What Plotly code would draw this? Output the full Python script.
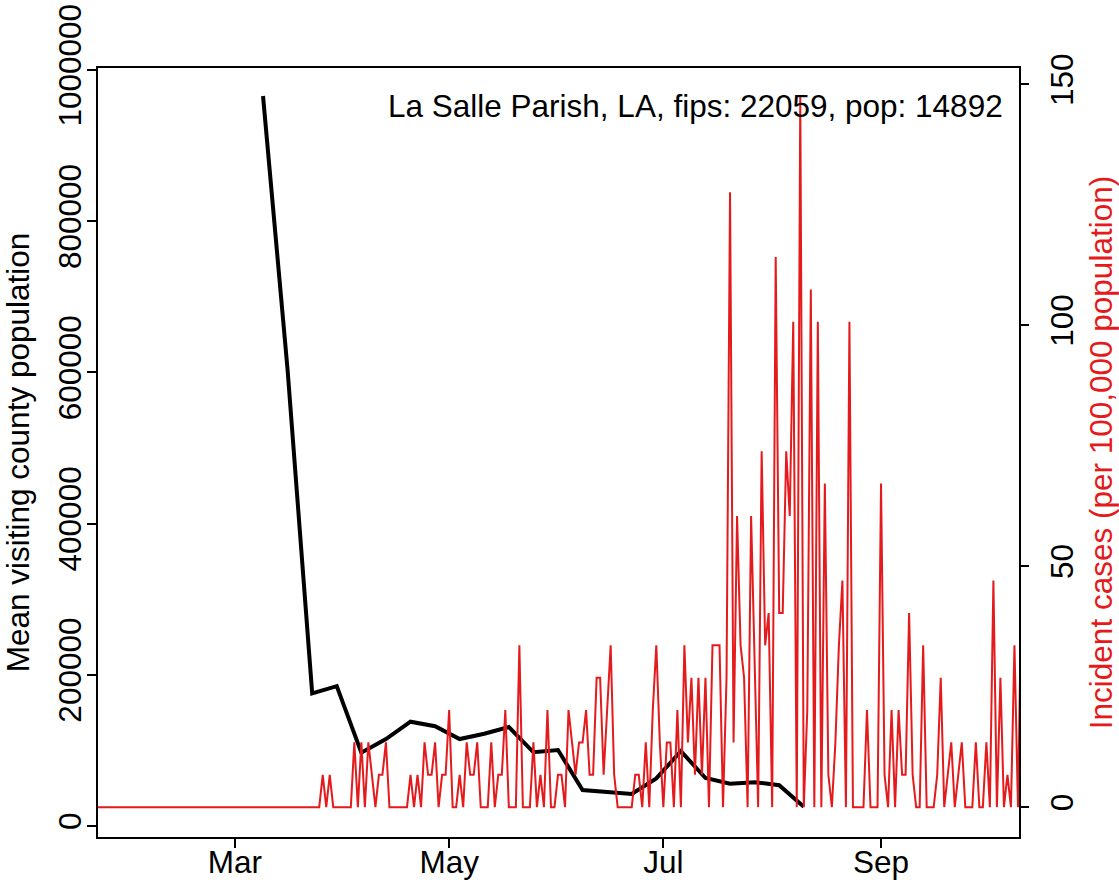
import pandas as pd
import plotly.graph_objects as go

# ---- data ----
case_start = "2020-01-22"
population = 14892
# daily incident case counts (plotted per 100,000 population)
daily_cases = (
    [0] * 64 +
    [1, 0, 1, 0, 0, 0, 0, 0, 0,
     2, 0, 2, 0, 2, 1, 0, 1, 1, 2, 0,
     0, 0, 0, 0, 0, 1, 0, 1, 0, 2,
     1, 1, 2, 0, 1, 1, 3, 0, 0, 1,
     0, 2, 1, 1, 2, 0, 0, 0, 2, 0,
     1, 1, 3, 0, 0, 0, 5, 0, 0, 0,
     2, 0, 1, 0, 3, 0, 0, 1, 1, 0,
     3, 2, 1, 2, 2, 3, 1, 1, 4, 4,
     1, 3, 5, 1, 0, 0, 0, 0, 0, 1,
     1, 0, 2, 0, 3, 5, 2, 0, 2, 2,
     0, 3, 0, 5, 2, 4, 1, 4, 1, 4,
     0, 5, 5, 5, 0, 4, 19, 2, 9, 5,
     4, 0, 9, 4, 0, 11, 5, 6, 0, 17,
     6, 6, 11, 9, 15, 0, 22, 0, 3, 16,
     0, 15, 0, 10, 1, 0, 2, 5, 7, 0,
     15, 0, 0, 0, 0, 3, 0, 0, 0, 10,
     1, 0, 3, 0, 3, 1, 1, 6, 1, 0,
     0, 5, 0, 0, 0, 1, 4, 0, 1, 2,
     0, 1, 2, 0, 0, 0, 2, 0, 0, 2,
     0, 7, 0, 4, 0, 1, 0, 5, 0, 7]
)
visit_start = "2020-03-09"
mean_visiting_pop = [965600, 603000, 175500, 185000, 97000, 115000, 138000,
                     132000, 115000, 122000, 131000, 97500, 100500, 47600,
                     45000, 42300, 63000, 99000, 63500, 56000, 58000, 54000,
                     25500]
x_tick_dates = ["2020-03-01", "2020-05-01", "2020-07-01", "2020-09-01"]
x_tick_text = ["Mar", "May", "Jul", "Sep"]
left_ticks = [0, 200000, 400000, 600000, 800000, 1000000]
right_ticks = [0, 50, 100, 150]
title_text = "La Salle Parish, LA, fips: 22059, pop: 14892"

case_dates = pd.date_range(case_start, periods=len(daily_cases), freq="D")
incidence = [c * 100000 / population for c in daily_cases]
visit_dates = pd.date_range(visit_start, periods=len(mean_visiting_pop), freq="7D")

RED = "#E41A1C"
FONT = "Liberation Sans, Arial, Helvetica, sans-serif"
FS = 31.5

fig = go.Figure()
fig.add_trace(go.Scatter(x=visit_dates, y=mean_visiting_pop, mode="lines",
                         line=dict(color="black", width=4),
                         name="Mean visiting county population",
                         yaxis="y", showlegend=False))
fig.add_trace(go.Scatter(x=case_dates, y=incidence, mode="lines",
                         line=dict(color=RED, width=2),
                         name="Incident cases (per 100,000 population)",
                         yaxis="y2", showlegend=False))

fig.update_layout(
    width=1119, height=884,
    margin=dict(l=98, r=100, t=68, b=47, pad=0),
    paper_bgcolor="white", plot_bgcolor="white",
    font=dict(family=FONT, size=FS, color="black"),
    xaxis=dict(
        range=["2020-01-22", "2020-10-10 07:00"],
        tickvals=x_tick_dates, ticktext=x_tick_text,
        ticks="outside", ticklen=9, tickwidth=1.5, tickcolor="black",
        showline=True, linecolor="black", linewidth=1.5, mirror=True,
        showgrid=False, zeroline=False, automargin=False,
        ticklabelstandoff=-13, ticklabeloverflow="allow",
        tickfont=dict(size=FS),
    ),
    yaxis=dict(
        range=[-14550, 1002600],
        tickvals=left_ticks, ticktext=[str(v) for v in left_ticks],
        tickangle=-90,
        ticks="outside", ticklen=9, tickwidth=1.5, tickcolor="black",
        showline=True, linecolor="black", linewidth=1.5, mirror=True,
        showgrid=False, zeroline=False, automargin=False,
        ticklabelstandoff=-6, ticklabeloverflow="allow",
        title=dict(text="Mean visiting county population", font=dict(size=FS), standoff=21),
        tickfont=dict(size=FS),
    ),
    yaxis2=dict(
        range=[-6.2, 153.4], overlaying="y", side="right",
        tickvals=right_ticks, ticktext=[str(v) for v in right_ticks],
        tickangle=-90,
        ticks="outside", ticklen=9, tickwidth=1.5, tickcolor="black",
        showline=False, showgrid=False, zeroline=False, automargin=False,
        ticklabelstandoff=6, ticklabeloverflow="allow",
        title=dict(text="Incident cases (per 100,000 population)",
                   font=dict(size=FS, color=RED), standoff=13),
        tickfont=dict(size=FS),
    ),
    annotations=[dict(
        text=title_text, xref="paper", yref="paper", x=0.985, y=0.95,
        xanchor="right", yanchor="middle", showarrow=False,
        font=dict(size=FS, color="black"),
    )],
)

fig.write_html("out.html", config={"displayModeBar": False},
               post_script="document.body.style.margin='0px';")
